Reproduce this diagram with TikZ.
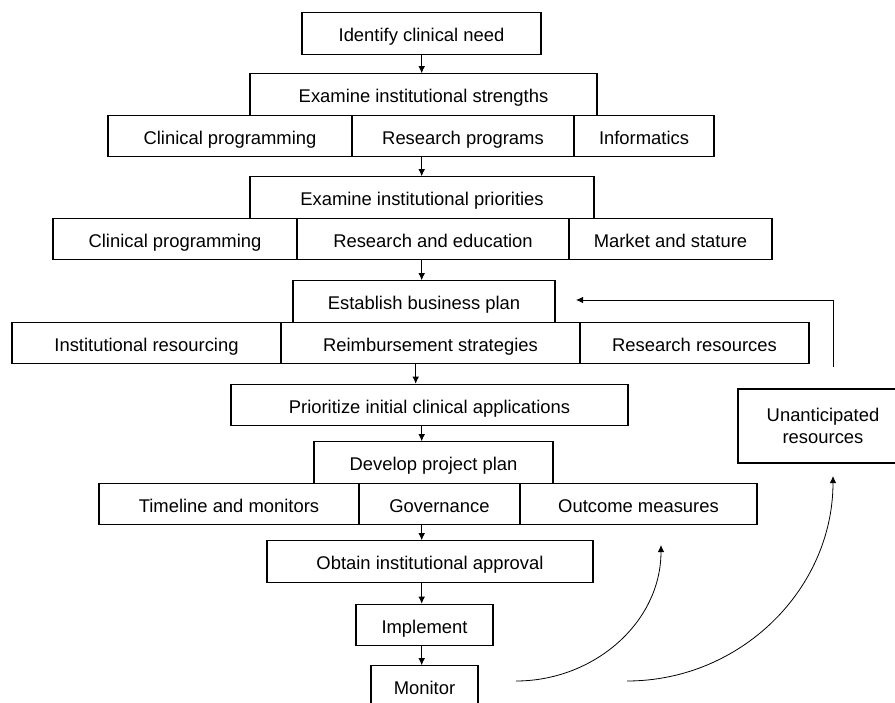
\documentclass[tikz,border=0pt]{standalone}
\usepackage{fontspec}
\setmainfont{Liberation Sans}
\usetikzlibrary{arrows.meta}

\begin{document}
\begin{tikzpicture}[x=1pt,y=-1pt,
			stage/.style={draw,line width=1.1pt,inner sep=0pt,minimum height=41.5pt,text height=16.4pt,text depth=0pt,font=\fontsize{18.4}{22.5}\selectfont},
			flow/.style={-{Latex[length=7pt,width=6.5pt]},line width=0.8pt}]
			\useasboundingbox (0,0) rectangle (895,703);
			\coordinate (col) at (421.7,0);
			\coordinate (colb) at (415.7,0);
			% main steps and their parts
			\node[stage,minimum width=239pt] (need) at (421.5,33.5) {Identify clinical need};
			\node[stage,minimum width=347pt] (strengths) at (423.5,94.5) {Examine institutional strengths};
			\node[stage,minimum width=244pt] (clinical1) at (230,136) {Clinical programming};
			\node[stage,minimum width=222pt] (research1) at (463,136) {Research programs};
			\node[stage,minimum width=140pt] (informatics) at (644,136) {Informatics};
			\node[stage,minimum width=344pt] (priorities) at (422,197.5) {Examine institutional priorities};
			\node[stage,minimum width=244pt] (clinical2) at (175,239) {Clinical programming};
			\node[stage,minimum width=272pt] (research2) at (433,239) {Research and education};
			\node[stage,minimum width=203pt] (market) at (670.5,239) {Market and stature};
			\node[stage,minimum width=262pt] (business) at (424,301.5) {Establish business plan};
			\node[stage,minimum width=269pt] (resourcing) at (146.5,343) {Institutional resourcing};
			\node[stage,minimum width=299pt] (reimb) at (430.5,343) {Reimbursement strategies};
			\node[stage,minimum width=229pt] (resources) at (694.5,343) {Research resources};
			\node[stage,minimum width=397pt] (prioritize) at (429.5,405) {Prioritize initial clinical applications};
			\node[stage,minimum width=239pt] (develop) at (433.5,462.5) {Develop project plan};
			\node[stage,minimum width=260pt] (timeline) at (229,504) {Timeline and monitors};
			\node[stage,minimum width=161pt] (gov) at (439.5,504) {Governance};
			\node[stage,minimum width=237pt] (outcome) at (638.5,504) {Outcome measures};
			\node[stage,minimum width=326pt] (approval) at (430,561.5) {Obtain institutional approval};
			\node[stage,minimum width=137pt] (implement) at (424.5,625) {Implement};
			\node[stage,minimum width=107pt] (monitor) at (424.5,686.5) {Monitor};
			\node[stage,minimum width=170pt,minimum height=74pt,text height={},text depth={},align=center] (unant) at (823,426) {Unanticipated\\resources};
			% down the chain
			\draw[flow] (col |- need.south) -- (col |- strengths.north);
			\draw[flow] (col |- research1.south) -- (col |- priorities.north);
			\draw[flow] (col |- research2.south) -- (col |- business.north);
			\draw[flow] (colb |- reimb.south) -- (colb |- prioritize.north);
			\draw[flow] (col |- prioritize.south) -- (col |- develop.north);
			\draw[flow] (col |- gov.south) -- (col |- approval.north);
			\draw[flow] (col |- approval.south) -- (col |- implement.north);
			\draw[flow] (col |- implement.south) -- (col |- monitor.north);
			% feedback
			\coordinate (fbfoot) at (833,367);
			\coordinate (fbtip) at (576,300);
			\draw[flow] (fbfoot) |- (fbtip);
			\coordinate (curveA) at (516,681);
			\coordinate (tipA) at (661,545);
			\draw[flow] (curveA) to[out=0,in=-90] (tipA);
			\coordinate (curveB) at (627,681);
			\coordinate (tipB) at (833,476);
			\draw[flow] (curveB) to[out=0,in=-90] (tipB);
\end{tikzpicture}
\end{document}
